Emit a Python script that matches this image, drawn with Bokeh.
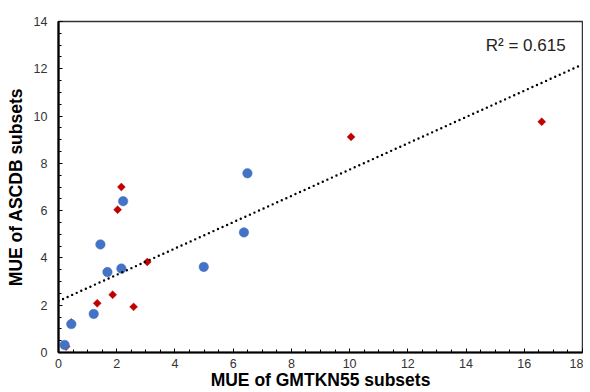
import numpy as np
from bokeh.plotting import figure
from bokeh.models import Range1d, SingleIntervalTicker, Label
from bokeh.embed import file_html
from bokeh.resources import INLINE

# Blue series (circles)
blue_x = [0.21, 0.44, 1.21, 1.44, 1.68, 2.16, 2.22, 4.99, 6.37, 6.49]
blue_y = [0.32, 1.20, 1.63, 4.57, 3.40, 3.55, 6.40, 3.62, 5.08, 7.58]
# Red series (diamonds)
red_x = [0.26, 0.44, 1.33, 1.86, 2.58, 2.03, 2.16, 3.05, 10.05, 16.60]
red_y = [0.25, 1.27, 2.08, 2.44, 1.93, 6.04, 7.00, 3.83, 9.12, 9.76]

x_label = "MUE of GMTKN55 subsets"
y_label = "MUE of ASCDB subsets"
r2_text = "R\u00b2 = 0.615"

FONT = "Liberation Sans"

p = figure(width=583, height=392, output_backend="svg", toolbar_location=None,
           x_range=Range1d(0, 18), y_range=Range1d(0, 14),
           min_border_left=58, min_border_right=1, min_border_top=21, min_border_bottom=39)
p.grid.visible = False
p.outline_line_color = "#333333"
p.outline_line_width = 1.5
p.background_fill_color = "white"
p.border_fill_color = "white"

for ax in (p.xaxis[0], p.yaxis[0]):
    ax.ticker = SingleIntervalTicker(interval=2, num_minor_ticks=4)
    ax.axis_line_color = "black"
    ax.axis_line_width = 2.2
    ax.major_tick_in = 4
    ax.major_tick_out = 0
    ax.minor_tick_in = 3
    ax.minor_tick_out = 0
    ax.major_tick_line_color = "black"
    ax.minor_tick_line_color = "black"
    ax.major_tick_line_width = 1
    ax.minor_tick_line_width = 1
    ax.major_label_text_font = FONT
    ax.major_label_text_font_size = "12.5px"
    ax.major_label_text_color = "#333333"
    ax.axis_label_text_font = FONT
    ax.axis_label_text_font_size = "17.5px"
    ax.axis_label_text_font_style = "bold"
    ax.axis_label_text_color = "black"
p.xaxis[0].major_label_standoff = 6
p.yaxis[0].major_label_standoff = 11
p.xaxis[0].axis_label = x_label
p.yaxis[0].axis_label = y_label
p.xaxis[0].axis_label_standoff = -1
p.yaxis[0].axis_label_standoff = 5

# trendline fitted over all points
all_x = np.array(blue_x + red_x)
all_y = np.array(blue_y + red_y)
slope, intercept = np.polyfit(all_x, all_y, 1)
tx = np.array([0.0, 18.0])
ty = intercept + slope * tx

p.scatter(red_x, red_y, marker="square", size=5.6, angle=np.pi / 4,
          fill_color="#C00000", line_color="#C00000", line_width=0.5)
p.scatter(blue_x, blue_y, marker="circle", size=9.5,
          fill_color="#4472C4", line_color="#4472C4", line_width=0.5)
p.line(tx, ty, line_color="black", line_width=2.4, line_dash="0 5", line_cap="round")

p.add_layout(Label(x=17.42, y=12.99, text=r2_text, text_align="right", text_baseline="middle",
                   text_font=FONT, text_font_size="17px", text_color="#222222"))

open("out.html", "w").write(file_html(p, INLINE))
